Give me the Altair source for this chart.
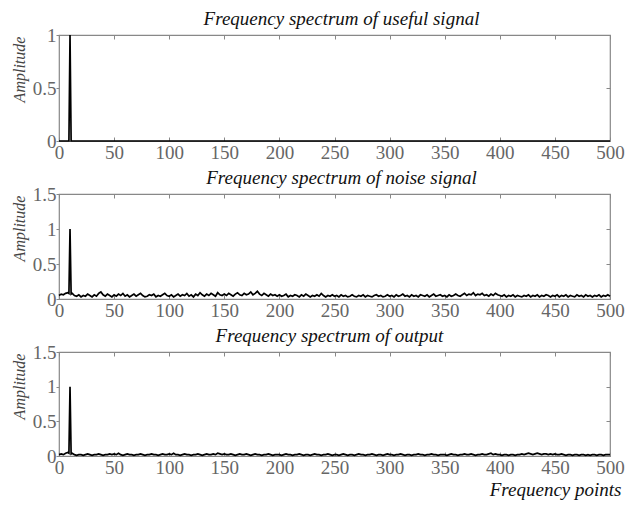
import altair as alt
import pandas as pd

# ---------------- data ----------------
useful_x = [0, 9, 10, 11, 500]
useful_amp = [0.0, 0.0, 1.0, 0.0, 0.0]

# even frequency points 0..500 (step 2)
grid_x = list(range(0, 501, 2))

noise_amp = [
    0.05,0.07,0.06,0.08,0.09,1.00,0.08,0.05,0.04,0.06,0.03,0.05,0.04,0.07,0.05,0.03,0.06,0.04,0.08,0.10,0.06,0.04,0.07,0.05,0.03,
    0.06,0.04,0.07,0.05,0.08,0.04,0.06,0.03,0.05,0.07,0.04,0.06,0.08,0.05,0.03,0.04,0.06,0.05,0.07,0.03,0.05,0.04,0.06,0.08,0.05,
    0.04,0.06,0.03,0.05,0.07,0.04,0.06,0.05,0.08,0.04,0.06,0.03,0.07,0.05,0.09,0.06,0.04,0.07,0.05,0.08,0.06,0.04,0.09,0.06,0.05,
    0.07,0.05,0.08,0.06,0.04,0.07,0.09,0.06,0.05,0.08,0.06,0.07,0.10,0.06,0.08,0.11,0.07,0.05,0.08,0.06,0.04,0.07,0.05,0.06,0.04,
    0.06,0.04,0.05,0.07,0.03,0.05,0.04,0.06,0.05,0.03,0.06,0.04,0.07,0.05,0.03,0.05,0.04,0.06,0.04,0.08,0.05,0.03,0.05,0.04,0.06,
    0.04,0.05,0.03,0.06,0.04,0.05,0.03,0.04,0.06,0.04,0.03,0.05,0.04,0.06,0.03,0.05,0.04,0.03,0.05,0.06,0.04,0.05,0.03,0.04,0.06,
    0.04,0.05,0.03,0.06,0.04,0.05,0.07,0.04,0.05,0.03,0.06,0.04,0.05,0.03,0.06,0.05,0.04,0.06,0.03,0.05,0.07,0.04,0.05,0.06,0.04,
    0.05,0.03,0.06,0.04,0.05,0.07,0.05,0.04,0.06,0.08,0.05,0.07,0.06,0.09,0.05,0.07,0.06,0.08,0.05,0.06,0.04,0.07,0.05,0.08,0.06,
    0.05,0.04,0.06,0.03,0.05,0.04,0.06,0.03,0.05,0.04,0.03,0.05,0.04,0.06,0.03,0.05,0.04,0.06,0.03,0.05,0.04,0.06,0.05,0.03,0.05,
    0.04,0.06,0.03,0.05,0.04,0.06,0.03,0.05,0.04,0.03,0.06,0.04,0.05,0.03,0.06,0.04,0.05,0.03,0.05,0.04,0.06,0.03,0.05,0.04,0.06,
    0.04,
]

output_amp = [
    0.02,0.03,0.02,0.04,0.05,1.00,0.04,0.02,0.01,0.02,0.02,0.01,0.02,0.03,0.02,0.01,0.02,0.02,0.03,0.02,0.01,0.02,0.02,0.03,0.02,
    0.03,0.02,0.04,0.02,0.01,0.02,0.03,0.02,0.02,0.01,0.02,0.02,0.03,0.02,0.01,0.02,0.02,0.03,0.02,0.02,0.01,0.02,0.03,0.02,0.02,
    0.03,0.02,0.04,0.02,0.02,0.01,0.02,0.03,0.02,0.02,0.01,0.02,0.02,0.03,0.02,0.01,0.02,0.03,0.02,0.02,0.03,0.02,0.04,0.03,0.02,
    0.03,0.02,0.02,0.03,0.02,0.01,0.02,0.03,0.02,0.02,0.03,0.02,0.01,0.02,0.03,0.02,0.02,0.01,0.02,0.02,0.03,0.02,0.01,0.02,0.02,
    0.02,0.01,0.02,0.03,0.02,0.02,0.01,0.02,0.02,0.03,0.02,0.01,0.02,0.02,0.01,0.02,0.03,0.02,0.02,0.01,0.02,0.02,0.03,0.02,0.01,
    0.02,0.02,0.01,0.02,0.03,0.02,0.01,0.02,0.02,0.01,0.02,0.03,0.02,0.02,0.01,0.02,0.02,0.03,0.02,0.01,0.02,0.02,0.01,0.02,0.03,
    0.02,0.02,0.01,0.02,0.02,0.03,0.02,0.01,0.02,0.02,0.01,0.02,0.02,0.03,0.02,0.02,0.01,0.02,0.02,0.03,0.02,0.02,0.01,0.02,0.02,
    0.02,0.01,0.02,0.03,0.02,0.02,0.01,0.02,0.02,0.03,0.02,0.02,0.03,0.02,0.01,0.02,0.02,0.03,0.02,0.02,0.03,0.04,0.02,0.03,0.02,
    0.02,0.01,0.02,0.02,0.01,0.02,0.02,0.01,0.02,0.02,0.03,0.02,0.03,0.04,0.03,0.02,0.03,0.04,0.03,0.02,0.03,0.03,0.02,0.03,0.02,
    0.03,0.02,0.02,0.03,0.02,0.01,0.02,0.02,0.01,0.02,0.02,0.01,0.02,0.02,0.01,0.02,0.01,0.02,0.02,0.01,0.02,0.02,0.01,0.02,0.02,
    0.02,
]

# shoulders of the spike at frequency point 10
shoulder_x = [9, 11]
noise_shoulder = [0.08, 0.07]
output_shoulder = [0.04, 0.03]

titles = [
    "Frequency spectrum of useful signal",
    "Frequency spectrum of noise signal",
    "Frequency spectrum of output",
]
x_ticks = [0, 50, 100, 150, 200, 250, 300, 350, 400, 450, 500]
y_ticks_top = [0, 0.5, 1]
y_ticks_other = [0, 0.5, 1, 1.5]

# ---------------- frames ----------------
df_useful = pd.DataFrame({"f": useful_x, "a": useful_amp})
df_noise = pd.DataFrame({"f": grid_x + shoulder_x, "a": noise_amp + noise_shoulder}).sort_values("f")
df_output = pd.DataFrame({"f": grid_x + shoulder_x, "a": output_amp + output_shoulder}).sort_values("f")

SERIF = "Liberation Serif"
AXC = "#888888"
LABC = "#666666"
W = 551


def panel(df, title, ydom, yticks, height, title_dx, xtitle=None):
    xs = alt.Scale(domain=[0, 500], nice=False, zero=False)
    ys = alt.Scale(domain=ydom, nice=False, zero=False)

    xaxis_main = dict(
        orient="bottom", values=x_ticks, domain=False, ticks=False, grid=False,
        labelFont=SERIF, labelFontSize=19, labelColor=LABC, labelPadding=2,
        labelFlush=False,
    )
    if xtitle:
        xaxis_main.update(
            title=xtitle, titleFont=SERIF, titleFontSize=19, titleFontStyle="italic",
            titleFontWeight="normal", titleColor="#111111", titleX=562, titleY=43,
            titleAlign="right", titleBaseline="bottom", titleAnchor="end",
        )
    else:
        xaxis_main.update(title=None)

    line = alt.Chart(df).mark_line(color="black", strokeWidth=1.7).encode(
        x=alt.X("f:Q", scale=xs, axis=alt.Axis(**xaxis_main)),
        y=alt.Y(
            "a:Q", scale=ys,
            axis=alt.Axis(
                orient="left", values=yticks, format="~g", domain=False, grid=False,
                tickSize=3, tickColor=AXC, labelFont=SERIF, labelFontSize=19,
                labelColor=LABC, labelPadding=0, labelFlush=False,
                title="Amplitude", titleFont=SERIF, titleFontSize=16,
                titleFontStyle="italic", titleFontWeight="normal", titleColor="#444444",
                titleAngle=270, titleX=-40, titleY=34, titleAlign="center",
                titleBaseline="middle",
            ),
        ),
    )

    inward_a = alt.Chart(df).mark_line(opacity=0).encode(
        x=alt.X("f:Q", scale=xs, axis=alt.Axis(
            orient="bottom", values=x_ticks, domain=False, labels=False, grid=False,
            ticks=True, tickSize=4, offset=-4, tickColor=AXC, title=None)),
        y=alt.Y("a:Q", scale=ys, axis=alt.Axis(
            orient="right", values=yticks, domain=False, labels=False, grid=False,
            ticks=True, tickSize=4, offset=-4, tickColor=AXC, title=None)),
    )
    inward_b = alt.Chart(df).mark_line(opacity=0).encode(
        x=alt.X("f:Q", scale=xs, axis=alt.Axis(
            orient="top", values=x_ticks, domain=False, labels=False, grid=False,
            ticks=True, tickSize=4, offset=-4, tickColor=AXC, title=None)),
        y=alt.Y("a:Q", scale=ys, axis=None),
    )

    return (
        alt.layer(line, inward_a, inward_b)
        .resolve_axis(x="independent", y="independent")
        .properties(
            width=W, height=height,
            title=alt.TitleParams(
                title, font=SERIF, fontSize=19, fontStyle="italic",
                fontWeight="normal", color="#111111", offset=-3, dx=title_dx,
            ),
        )
    )


p1 = panel(df_useful, titles[0], [0, 1], y_ticks_top, 106, 7)
p2 = panel(df_noise, titles[1], [0, 1.5], y_ticks_other, 105, 7)
p3 = panel(df_output, titles[2], [0, 1.5], y_ticks_other, 104, -5, xtitle="Frequency points")

chart = (
    alt.vconcat(p1, p2, p3, spacing=53, bounds="flush")
    .properties(
        padding={"left": 10, "top": 9, "right": 5, "bottom": 5},
        background="white",
    )
    .configure_view(stroke=AXC, strokeWidth=1.2)
)

chart.save("out.html", embed_options={"renderer": "svg", "actions": False})
